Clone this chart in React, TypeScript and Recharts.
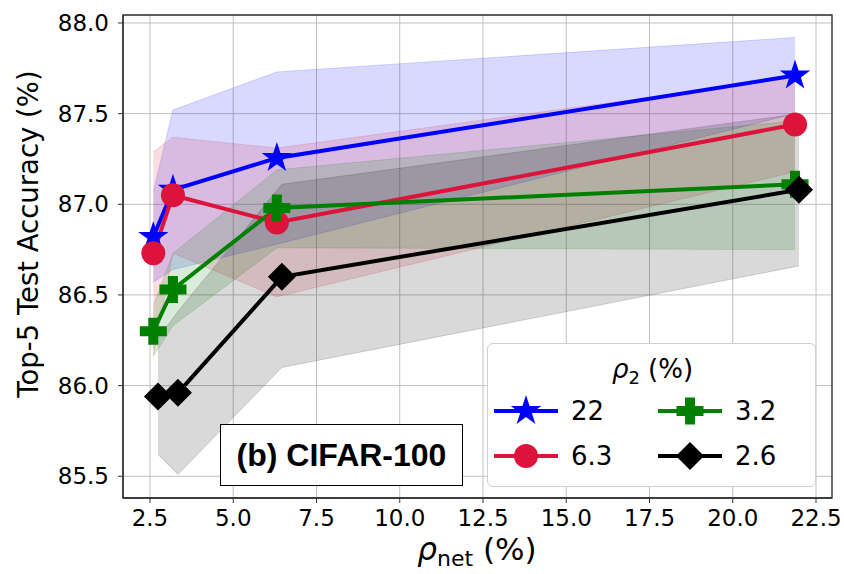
import React from "react";
import {
  ComposedChart,
  Area,
  Line,
  XAxis,
  YAxis,
  CartesianGrid,
  ReferenceArea,
  Label,
} from "recharts";

// axis ticks
const xTicks = [2.5, 5, 7.5, 10, 12.5, 15, 17.5, 20, 22.5];
const yTicks = [85.5, 86, 86.5, 87, 87.5, 88];
const xDomain = [1.69, 22.98];
const yDomain = [85.38, 88.044];

// rho_net (%) for each run
const rhoNet = [2.6, 3.19, 6.31, 21.87];
const rhoNetBlack = [2.74, 3.34, 6.46, 21.99];

// rho_2 = 22
const acc22 = [86.82, 87.08, 87.255, 87.71];
const lo22 = [86.57, 86.64, 86.78, 87.5];
const hi22 = [87.07, 87.52, 87.73, 87.92];

// rho_2 = 6.3
const acc63 = [86.73, 87.05, 86.9, 87.44];
const lo63 = [86.16, 86.73, 86.49, 87.18];
const hi63 = [87.29, 87.37, 87.31, 87.7];

// rho_2 = 3.2
const acc32 = [86.3, 86.53, 86.98, 87.11];
const lo32 = [86.16, 86.33, 86.76, 86.75];
const hi32 = [86.44, 86.73, 87.19, 87.46];

// rho_2 = 2.6
const acc26 = [85.94, 85.96, 86.6, 87.08];
const lo26 = [85.62, 85.51, 86.1, 86.66];
const hi26 = [86.26, 86.41, 87.11, 87.5];

const BLUE = "#0000ff";
const RED = "#dc143c";
const GREEN = "#008000";
const BLACK = "#000000";

const rows = (xs: number[], ys: number[], lo: number[], hi: number[]) =>
  xs.map((x, i) => ({ x, y: ys[i], band: [lo[i], hi[i]] }));

const series = [
  { name: "22", color: BLUE, data: rows(rhoNet, acc22, lo22, hi22), marker: "star" },
  { name: "6.3", color: RED, data: rows(rhoNet, acc63, lo63, hi63), marker: "circle" },
  { name: "3.2", color: GREEN, data: rows(rhoNet, acc32, lo32, hi32), marker: "plus" },
  { name: "2.6", color: BLACK, data: rows(rhoNetBlack, acc26, lo26, hi26), marker: "diamond" },
];

function Marker({ kind, cx, cy, color }: { kind: string; cx: number; cy: number; color: string }) {
  if (kind === "star") {
    const R = 16;
    const pts = [];
    for (let i = 0; i < 10; i++) {
      const a = (-90 + i * 36) * (Math.PI / 180);
      const r = i % 2 ? R * 0.382 : R;
      pts.push(`${cx + r * Math.cos(a)},${cy + r * Math.sin(a)}`);
    }
    return <polygon points={pts.join(" ")} fill={color} />;
  }
  if (kind === "circle") return <circle cx={cx} cy={cy} r={12} fill={color} />;
  if (kind === "plus") {
    const a = 13.5;
    const t = 5;
    const d = `M${cx - t},${cy - a}H${cx + t}V${cy - t}H${cx + a}V${cy + t}H${cx + t}V${cy + a}H${cx - t}V${cy + t}H${cx - a}V${cy - t}H${cx - t}Z`;
    return <path d={d} fill={color} />;
  }
  const h = 14;
  return (
    <polygon
      points={`${cx},${cy - h} ${cx + h},${cy} ${cx},${cy + h} ${cx - h},${cy}`}
      fill={color}
    />
  );
}

const tickStyle = { fill: "#000", fontSize: 23, fontFamily: "DejaVu Sans" };

function LegendIcon({ kind, color }: { kind: string; color: string }) {
  return (
    <svg width={64} height={34} style={{ display: "block" }}>
      <line x1={0} y1={17} x2={64} y2={17} stroke={color} strokeWidth={4} />
      <Marker kind={kind} cx={32} cy={17} color={color} />
    </svg>
  );
}

export default function App() {
  return (
    <div
      style={{
        position: "absolute",
        left: 0,
        top: 0,
        width: 844,
        height: 574,
        background: "#fff",
        fontFamily: "DejaVu Sans",
      }}
    >
      <ComposedChart
        width={844}
        height={574}
        margin={{ top: 15, right: 12, left: 0, bottom: 0 }}
      >
        <CartesianGrid stroke="#c0c0c0" strokeWidth={1} />
        <XAxis
          dataKey="x"
          type="number"
          domain={xDomain}
          ticks={xTicks}
          allowDataOverflow
          height={76}
          tickSize={5}
          tickMargin={7}
          tick={tickStyle}
          tickFormatter={(v: number) => v.toFixed(1)}
          tickLine={{ stroke: "#333" }}
          axisLine={{ stroke: "#333", strokeWidth: 1.3 }}
        >
          <Label
            content={() => (
              <text x={477} y={560} textAnchor="middle" fontSize={31} fontFamily="DejaVu Sans" fill="#000">
                <tspan fontStyle="italic">ρ</tspan>
                <tspan fontSize={22} dy={6}>net</tspan>
                <tspan dy={-6}> (%)</tspan>
              </text>
            )}
          />
        </XAxis>
        <YAxis
          type="number"
          domain={yDomain}
          ticks={yTicks}
          allowDataOverflow
          width={123}
          tickSize={5}
          tickMargin={9}
          tick={tickStyle}
          tickFormatter={(v: number) => v.toFixed(1)}
          tickLine={{ stroke: "#333" }}
          axisLine={{ stroke: "#333", strokeWidth: 1.3 }}
        >
          <Label
            content={() => (
              <text
                x={38}
                y={234}
                transform="rotate(-90 38 234)"
                textAnchor="middle"
                fontSize={27.5}
                fontFamily="DejaVu Sans"
                fill="#000"
              >
                Top-5 Test Accuracy (%)
              </text>
            )}
          />
        </YAxis>
        <ReferenceArea
          x1={xDomain[0]}
          x2={xDomain[1]}
          y1={yDomain[0]}
          y2={yDomain[1]}
          fill="none"
          stroke="#333"
          strokeWidth={1.3}
          ifOverflow="visible"
        />
        {series.map((s) => (
          <Area
            key={`band-${s.name}`}
            data={s.data}
            dataKey="band"
            type="linear"
            fill={s.color}
            fillOpacity={0.15}
            stroke={s.color}
            strokeOpacity={0.15}
            strokeWidth={1}
            dot={false}
            activeDot={false}
            isAnimationActive={false}
          />
        ))}
        {series.map((s) => (
          <Line
            key={`line-${s.name}`}
            data={s.data}
            dataKey="y"
            type="linear"
            stroke={s.color}
            strokeWidth={4}
            dot={(p: any) => (
              <Marker key={`${s.name}-${p.index}`} kind={s.marker} cx={p.cx} cy={p.cy} color={s.color} />
            )}
            activeDot={false}
            isAnimationActive={false}
          />
        ))}
      </ComposedChart>

      <div
        style={{
          position: "absolute",
          left: 220,
          top: 424,
          width: 243,
          height: 62,
          boxSizing: "border-box",
          border: "1.5px solid #000",
          background: "#fff",
          display: "flex",
          alignItems: "center",
          justifyContent: "center",
          fontFamily: "Liberation Sans",
          fontWeight: "bold",
          fontSize: 32,
          color: "#000",
        }}
      >
        (b) CIFAR-100
      </div>

      <div
        style={{
          position: "absolute",
          left: 487,
          top: 343,
          width: 329,
          height: 144,
          boxSizing: "border-box",
          border: "1px solid #d0d0d0",
          borderRadius: 6,
          background: "#fff",
          fontSize: 26,
          color: "#000",
        }}
      >
        <div style={{ position: "absolute", left: 0, width: 329, top: 10, textAlign: "center" }}>
          <span style={{ fontStyle: "italic" }}>ρ</span>
          <span style={{ fontSize: 18, position: "relative", top: 6 }}>2</span> (%)
        </div>
        {series.map((s, i) => {
          const col = i === 0 || i === 1 ? 0 : 1;
          const row = i === 0 || i === 2 ? 0 : 1;
          return (
            <div
              key={s.name}
              style={{
                position: "absolute",
                left: 6 + col * 164,
                top: 50 + row * 45,
                display: "flex",
                alignItems: "center",
              }}
            >
              <LegendIcon kind={s.marker} color={s.color} />
              <span style={{ marginLeft: 13, lineHeight: "34px" }}>{s.name}</span>
            </div>
          );
        })}
      </div>
    </div>
  );
}
